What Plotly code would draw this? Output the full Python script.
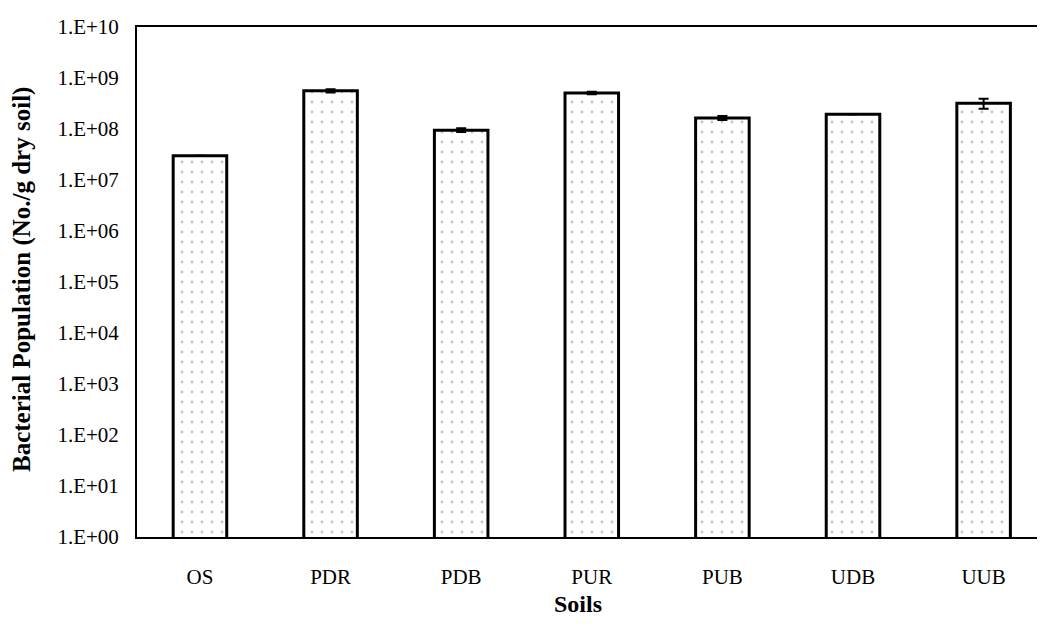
import plotly.graph_objects as go

soils = ["OS", "PDR", "PDB", "PUR", "PUB", "UDB", "UUB"]
population = [3.0e7, 5.6e8, 9.5e7, 5.1e8, 1.65e8, 1.95e8, 3.2e8]
errors = [0.0, 4.0e7, 8.0e6, 3.0e7, 1.5e7, 0.0, 7.0e7]
tick_vals = [10 ** k for k in range(0, 11)]
tick_text = ["1.E+%02d" % k for k in range(0, 11)]

FONT = "Liberation Serif"

fig = go.Figure()
fig.add_trace(go.Bar(
    x=soils,
    y=population,
    width=0.41,
    marker=dict(
        color="white",
        line=dict(color="black", width=3),
        pattern=dict(shape=".", fgcolor="#888888", bgcolor="white", size=10, solidity=0.06),
    ),
    error_y=dict(type="data", array=errors, visible=True, color="black", thickness=2, width=5),
))

fig.update_layout(
    width=1045, height=633,
    margin=dict(l=129, r=8, t=19, b=104),
    paper_bgcolor="white", plot_bgcolor="white",
    showlegend=False,
    font=dict(family=FONT, color="black", size=18),
    xaxis=dict(
        range=[-0.482, 6.47],
        showline=True, linecolor="black", linewidth=2, mirror=True,
        showgrid=False, ticks="", ticklabelstandoff=20,
        tickfont=dict(family=FONT, size=21),
    ),
    yaxis=dict(
        type="log", range=[0, 10],
        tickvals=tick_vals, ticktext=tick_text,
        showline=True, linecolor="black", linewidth=2, mirror=False,
        showgrid=False, ticks="", ticklabelstandoff=12,
        tickfont=dict(family=FONT, size=21),
        zeroline=False,
    ),
    annotations=[
        dict(text="<b>Soils</b>", xref="paper", yref="paper", x=(578 - 137) / 908, y=-(604 - 537) / 510,
             xanchor="center", yanchor="middle", showarrow=False, font=dict(family=FONT, size=24)),
        dict(text="<b>Bacterial Population (No./g dry soil)</b>", xref="paper", yref="paper",
             x=(22 - 137) / 908, y=(537 - 280) / 510, textangle=-90,
             xanchor="center", yanchor="middle", showarrow=False, font=dict(family=FONT, size=25)),
    ],
)

fig.write_html("out.html")
